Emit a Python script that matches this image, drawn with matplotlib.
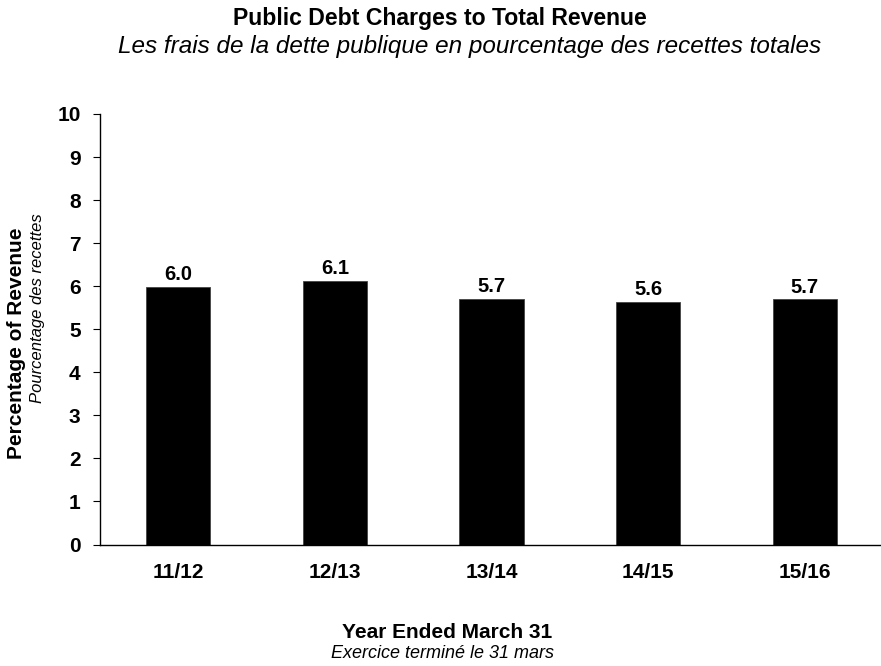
import numpy as np
import matplotlib
matplotlib.use('Agg')
import matplotlib.pyplot as plt

plt.rcParams['font.family'] = ['Liberation Sans', 'DejaVu Sans']

years = ['11/12', '12/13', '13/14', '14/15', '15/16']
values = [5.98, 6.12, 5.71, 5.64, 5.70]
value_labels = ['6.0', '6.1', '5.7', '5.6', '5.7']

fig = plt.figure(figsize=(8.81, 6.66), dpi=100)
ax = fig.add_axes([100 / 881, 1 - 544.5 / 666, 783 / 881, 430.5 / 666])

x = np.arange(len(years))
ax.bar(x, values, width=0.41, color='black', edgecolor='#444444', linewidth=0.6)

for xi, v, lab in zip(x, values, value_labels):
    ax.text(xi, v + 0.06, lab, ha='center', va='bottom', fontsize=14.5, fontweight='bold')

ax.set_xlim(-0.5, 4.5)
ax.set_ylim(0, 10)
ax.set_yticks(range(0, 11))
ax.set_xticks(x)
ax.set_xticklabels(years, fontsize=15, fontweight='bold')
for t in ax.get_yticklabels():
    t.set_fontsize(15)
    t.set_fontweight('bold')
ax.tick_params(axis='x', length=0, pad=13)
ax.tick_params(axis='y', length=5, width=0.8, direction='out', pad=9)

ax.spines['top'].set_visible(False)
ax.spines['right'].set_visible(False)
ax.spines['left'].set_linewidth(1.0)
ax.spines['bottom'].set_linewidth(1.0)

fig.text(440 / 881, 1 - 19 / 666, 'Public Debt Charges to Total Revenue', ha='center', va='center',
         fontsize=16.6, fontweight='bold')
fig.text(470 / 881, 1 - 46 / 666, 'Les frais de la dette publique en pourcentage des recettes totales',
         ha='center', va='center', fontsize=17.5, style='italic')

fig.text(447 / 881, 1 - 633 / 666, 'Year Ended March 31', ha='center', va='center',
         fontsize=15, fontweight='bold')
fig.text(443 / 881, 1 - 653 / 666, 'Exercice terminé le 31 mars', ha='center', va='center',
         fontsize=13, style='italic')

fig.text(17 / 881, 1 - 343 / 666, 'Percentage of Revenue', ha='center', va='center',
         rotation=90, fontsize=15, fontweight='bold')
fig.text(38 / 881, 1 - 308 / 666, 'Pourcentage des recettes', ha='center', va='center',
         rotation=90, fontsize=12, style='italic')

fig.savefig('out.png', dpi=100)
